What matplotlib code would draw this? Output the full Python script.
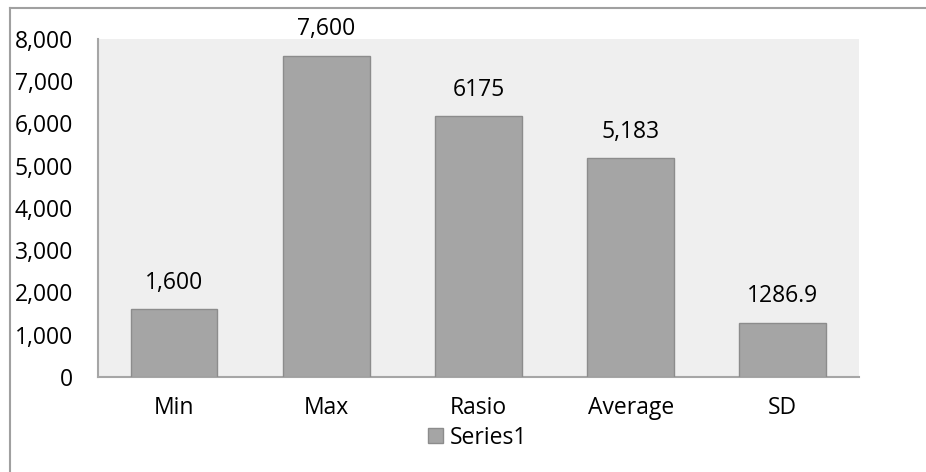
import matplotlib as mpl
mpl.use('Agg')
import matplotlib.pyplot as plt
from matplotlib.lines import Line2D

# data
categories = ['Min', 'Max', 'Rasio', 'Average', 'SD']
values = [1600, 7600, 6175, 5183, 1286.9]
value_labels = ['1,600', '7,600', '6175', '5,183', '1286.9']
yticks = [0, 1000, 2000, 3000, 4000, 5000, 6000, 7000, 8000]
series_name = 'Series1'

clr_bar = '#A5A5A5'
clr_edge = '#8C8C8C'
clr_bg = '#EFEFEF'
clr_axis = '#A6A6A6'

fsz = 16.5
plt.rcParams['font.family'] = ['Open Sans', 'DejaVu Sans']
plt.rcParams['font.size'] = fsz

fig = plt.figure(figsize=(9.26, 4.72), dpi=100, facecolor='w')
ax = fig.add_axes([0.1058, 0.2013, 0.8218, 0.7161])
ax.set_facecolor(clr_bg)

xx = range(len(categories))
bars = ax.bar(xx, values, width=0.57, color=clr_bar, edgecolor=clr_edge, linewidth=1.0,
              label=series_name, zorder=3)

for x, v, s in zip(xx, values, value_labels):
    ax.annotate(s, xy=(x, v), xytext=(0, 19), textcoords='offset points',
                ha='center', va='center', fontsize=fsz, color='k')

ax.set_xlim(-0.5, len(categories) - 0.5)
ax.set_ylim(0, 8000)
ax.set_xticks(list(xx))
ax.set_xticklabels(categories)
ax.set_yticks(yticks)
ax.set_yticklabels(['{:,}'.format(t) for t in yticks])
ax.tick_params(axis='both', length=0)
ax.tick_params(axis='x', pad=14)
ax.tick_params(axis='y', pad=18)

for sp in ['top', 'right']:
    ax.spines[sp].set_visible(False)
for sp in ['left', 'bottom']:
    ax.spines[sp].set_color(clr_axis)
    ax.spines[sp].set_linewidth(1.5)

fig.legend(handles=[bars], labels=[series_name], loc='center', bbox_to_anchor=(0.516, 0.073),
           frameon=False, handlelength=0.65, handleheight=0.65, handletextpad=0.3, fontsize=fsz)

# outer chart border (left and top only visible)
fig.add_artist(Line2D([0.0108, 0.0108], [0.0, 0.983], transform=fig.transFigure,
                      color='#A0A0A0', linewidth=1.5))
fig.add_artist(Line2D([0.0108, 1.0], [0.983, 0.983], transform=fig.transFigure,
                      color='#A0A0A0', linewidth=1.5))

fig.savefig('out.png', dpi=100, facecolor='w')
